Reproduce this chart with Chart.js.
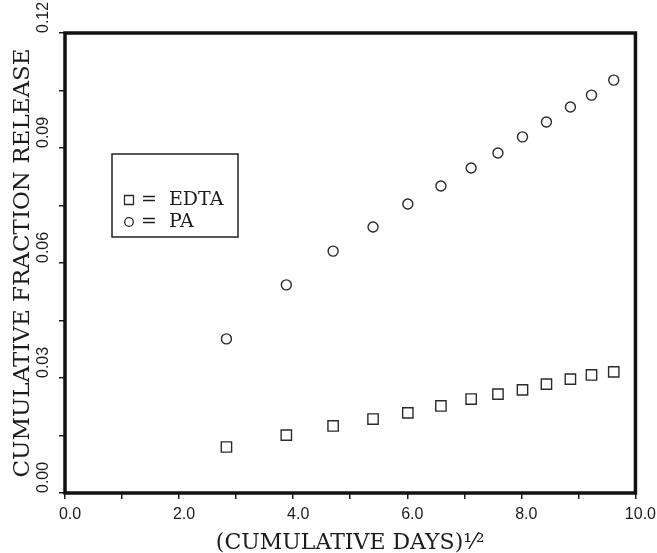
<!DOCTYPE html>
<html>
<head>
<meta charset="utf-8">
<script src="https://cdn.jsdelivr.net/npm/chart.js@4/dist/chart.umd.min.js"></script>
<style>
html, body { margin: 0; padding: 0; background: #fff; }
</style>
</head>
<body>
<canvas id="myChart" width="657" height="553"></canvas>
<script>
// values
let sqrtDays = [2.83, 3.88, 4.70, 5.40, 6.01, 6.59, 7.12, 7.59, 8.02, 8.44, 8.86, 9.23, 9.62]
let edta = [0.0120, 0.0151, 0.0175, 0.0193, 0.0209, 0.0227, 0.0245, 0.0258, 0.0269, 0.0284, 0.0297, 0.0308, 0.0316]
let pa = [0.0402, 0.0543, 0.0631, 0.0694, 0.0754, 0.0801, 0.0848, 0.0887, 0.0929, 0.0968, 0.1007, 0.1038, 0.1077]
let seriesNames = ['EDTA', 'PA']
let xTitle = '(CUMULATIVE DAYS)\u00B9\u2044\u00B2'
let yTitle = 'CUMULATIVE FRACTION RELEASE'

let ink = '#1c1c1c'
let serif = 'DejaVu Serif'
let sans = 'Liberation Sans'

function toPoints(ys){
    return sqrtDays.map((x, i) => ({x: x, y: ys[i]}))
}

// thick frame round the plot
let framePlugin = {
    id: 'frame',
    afterDraw(chart){
        let {ctx, chartArea} = chart
        ctx.save()
        ctx.strokeStyle = '#111'
        ctx.lineWidth = 3.5
        ctx.strokeRect(chartArea.left, chartArea.top, chartArea.right - chartArea.left, chartArea.bottom - chartArea.top)
        ctx.restore()
    }
}

// y tick labels are rotated, reading upward from the tick
let yLabelPlugin = {
    id: 'yLabels',
    afterDraw(chart){
        let {ctx} = chart
        let scale = chart.scales.y
        ctx.save()
        ctx.fillStyle = ink
        ctx.font = '16px "' + sans + '"'
        ctx.textAlign = 'left'
        ctx.textBaseline = 'middle'
        scale.ticks.forEach((t, i) => {
            if(i % 2) return
            let y = scale.getPixelForValue(t.value)
            ctx.save()
            ctx.translate(44, y)
            ctx.rotate(-Math.PI / 2)
            ctx.fillText(t.value.toFixed(2), 0, 0)
            ctx.restore()
        })
        ctx.restore()
    }
}

// boxed legend inside the plot
let boxLegendPlugin = {
    id: 'boxLegend',
    afterDraw(chart){
        let {ctx, chartArea} = chart
        let x0 = chartArea.left + 47
        let y0 = chartArea.top + 121
        ctx.save()
        ctx.strokeStyle = '#222'
        ctx.lineWidth = 1.5
        ctx.strokeRect(x0, y0, 126, 83)
        chart.data.datasets.forEach((ds, i) => {
            let cx = x0 + 17
            let cy = y0 + 46 + i * 22
            ctx.strokeStyle = ds.borderColor
            ctx.lineWidth = 1.3
            ctx.beginPath()
            if(ds.pointStyle == 'rect'){
                ctx.rect(cx - 4.5, cy - 4.5, 9, 9)
            } else {
                ctx.arc(cx, cy, 4.3, 0, Math.PI * 2)
            }
            ctx.stroke()
            ctx.fillStyle = ink
            ctx.font = '19px "' + serif + '"'
            ctx.textAlign = 'left'
            ctx.textBaseline = 'middle'
            ctx.fillText('=', x0 + 29, cy)
            ctx.fillText(ds.label, x0 + 57, cy)
        })
        ctx.restore()
    }
}

new Chart('myChart', {
    type: 'scatter',
    data: {
        datasets: [{
            label: seriesNames[0],
            data: toPoints(edta),
            pointStyle: 'rect',
            pointRadius: 7.3,
            borderColor: '#2a2a2a',
            backgroundColor: 'rgba(0,0,0,0)',
            borderWidth: 1.4
        }, {
            label: seriesNames[1],
            data: toPoints(pa),
            pointStyle: 'circle',
            pointRadius: 5,
            borderColor: '#2a2a2a',
            backgroundColor: 'rgba(0,0,0,0)',
            borderWidth: 1.4
        }]
    },
    options: {
        responsive: false,
        animation: false,
        devicePixelRatio: 1,
        layout: { padding: { top: 33, right: 19, left: 0, bottom: 0 } },
        plugins: {
            legend: { display: false },
            tooltip: { enabled: false }
        },
        scales: {
            x: {
                type: 'linear',
                min: 0,
                max: 10,
                afterFit: (scale) => { scale.height = 60 },
                border: { display: false },
                grid: { drawOnChartArea: false, drawTicks: true, tickLength: 6, tickColor: ink, lineWidth: 1.5 },
                ticks: {
                    stepSize: 1,
                    autoSkip: false,
                    maxRotation: 0,
                    labelOffset: 5,
                    padding: 6,
                    color: ink,
                    font: { family: sans, size: 16 },
                    callback: (v) => (Math.round(v) % 2 == 0) ? v.toFixed(1) : ''
                },
                title: {
                    display: true,
                    text: xTitle,
                    color: ink,
                    font: { family: serif, size: 22, lineHeight: 0.9 },
                    padding: { top: 0, bottom: 0 }
                }
            },
            y: {
                min: 0,
                max: 0.12,
                afterFit: (scale) => { scale.width = 65 },
                border: { display: false },
                grid: { drawOnChartArea: false, drawTicks: true, tickLength: 6, tickColor: ink, lineWidth: 1.5 },
                ticks: { stepSize: 0.015, display: false },
                title: {
                    display: true,
                    text: yTitle,
                    color: ink,
                    font: { family: serif, size: 23 },
                    padding: { top: 9, bottom: 0 }
                }
            }
        }
    },
    plugins: [framePlugin, yLabelPlugin, boxLegendPlugin]
})
</script>
</body>
</html>
